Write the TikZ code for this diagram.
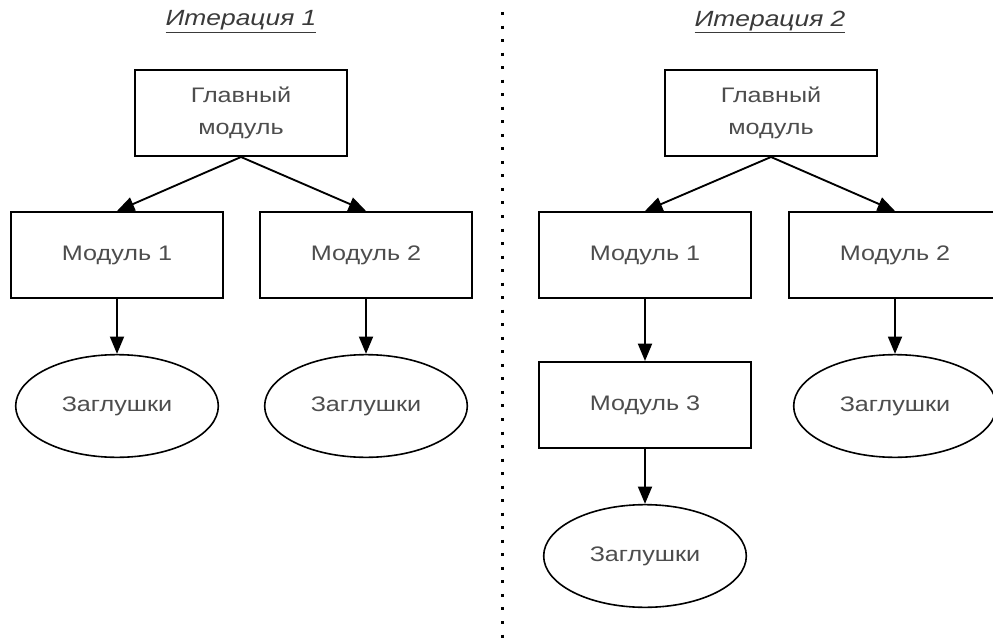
\documentclass[tikz,border=0pt]{standalone}
\usepackage{fontspec}
\setmainfont{Liberation Sans}[FakeStretch=1.2]
\usetikzlibrary{arrows.meta, positioning, shapes.geometric}
\definecolor{labeltext}{HTML}{4D4D4D}
\definecolor{titletext}{HTML}{3A3A3A}

\begin{document}
\begin{tikzpicture}[x=0.75pt, y=-0.75pt,
    box/.style={draw=black, line width=1.5pt, fill=white, minimum width=159pt, minimum height=64.5pt, inner sep=0pt, text=labeltext, font=\fontsize{15.75}{24}\selectfont, align=center},
    stub/.style={ellipse, draw=black, line width=1.2pt, fill=white, minimum width=152pt, minimum height=77pt, inner sep=0pt, text=labeltext, font=\fontsize{15.75}{24}\selectfont},
    flow/.style={line width=1.4pt, -{Triangle[length=13pt, width=10.5pt]}},
    title/.style={font=\fontsize{16.5}{20}\selectfont\itshape, text=titletext}]
    \useasboundingbox (0,0) rectangle (993,642);

    % titles and separator
    \node[title] (it1) at (241,22) {\underline{Итерация 1}};
    \node[title] (it2) at (770,22) {\underline{Итерация 2}};
    \coordinate (sepTop) at (502,12);
    \coordinate (sepBot) at (502,642);
    \draw[line width=2.25pt, dash pattern=on 2.25pt off 7.9pt] (sepTop) -- (sepBot);

    % iteration 1
    \node[box] (main1) at (241,113) {Главный\\модуль};
    \node[box] (m11) at (117,255) {Модуль 1};
    \node[box] (m12) at (366,255) {Модуль 2};
    \node[stub] (s11) at (117,406) {Заглушки};
    \node[stub] (s12) at (366,406) {Заглушки};

    \draw[flow] (main1.south) -- (m11.north);
    \draw[flow] (main1.south) -- (m12.north);
    \draw[flow] (m11.south) -- (s11.north);
    \draw[flow] (m12.south) -- (s12.north);

    % iteration 2
    \node[box] (main2) at (771,113) {Главный\\модуль};
    \node[box] (m21) at (645,255) {Модуль 1};
    \node[box] (m22) at (895,255) {Модуль 2};
    \node[box] (m23) at (645,405) {Модуль 3};
    \node[stub] (s22) at (895,406) {Заглушки};
    \node[stub] (s23) at (645,556) {Заглушки};

    \draw[flow] (main2.south) -- (m21.north);
    \draw[flow] (main2.south) -- (m22.north);
    \draw[flow] (m21.south) -- (m23.north);
    \draw[flow] (m22.south) -- (s22.north);
    \draw[flow] (m23.south) -- (s23.north);
\end{tikzpicture}
\end{document}
